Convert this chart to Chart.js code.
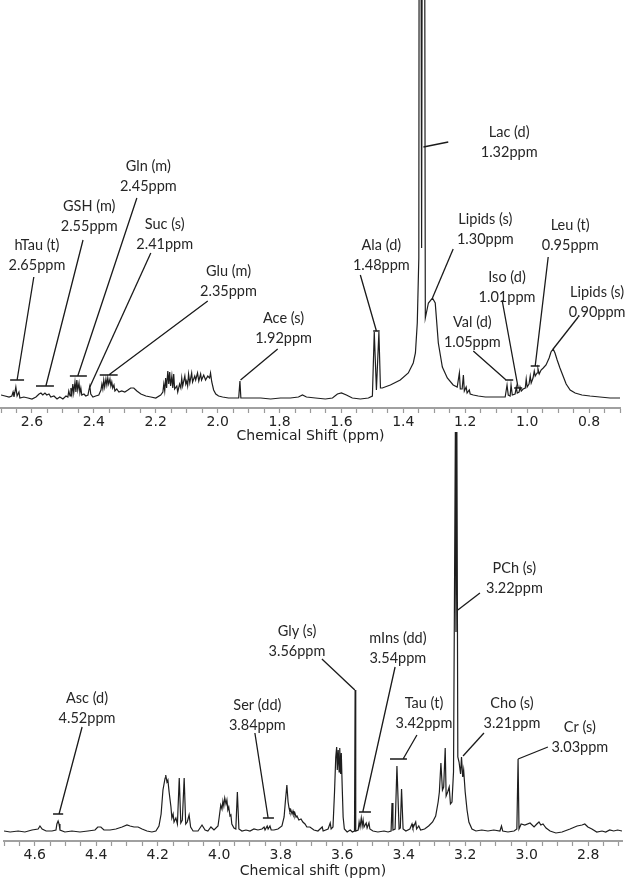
<!DOCTYPE html>
<html>
<head>
<meta charset="utf-8">
<script src="https://cdn.jsdelivr.net/npm/chart.js@4.4.1/dist/chart.umd.min.js"></script>
<style>
  body { margin: 0; background: #fff; }
  #wrap { position: relative; width: 625px; height: 880px; overflow: hidden; }
  canvas { position: absolute; left: 0; }
  #topChart { top: 0; }
  #bottomChart { top: 430px; }
</style>
</head>
<body>
<div id="wrap">
  <canvas id="topChart" width="625" height="445"></canvas>
  <canvas id="bottomChart" width="625" height="450"></canvas>
</div>
<script>
// espectro superior: [desplazamiento ppm, intensidad]
const topTrace = [
  [2.700,3],[2.687,2],[2.674,1],[2.665,2],[2.661,6],[2.658,1],[2.652,11],[2.648,2],[2.642,6],[2.639,0],
  [2.626,1],[2.613,0],[2.600,-1],[2.587,1],[2.577,4],[2.571,5],[2.565,3],[2.558,5],[2.552,3],[2.545,4],
  [2.539,1],[2.529,2],[2.519,-1],[2.510,1],[2.500,-1],[2.490,2],[2.484,1],[2.481,7],[2.477,2],[2.474,10],
  [2.471,4],[2.468,14],[2.465,5],[2.461,16],[2.458,6],[2.455,18],[2.452,8],[2.448,15],[2.445,5],[2.442,10],
  [2.439,3],[2.432,4],[2.426,2],[2.419,3],[2.416,8],[2.413,12],[2.410,4],[2.403,1],[2.394,2],[2.384,3],
  [2.377,8],[2.374,14],[2.371,9],[2.368,18],[2.365,11],[2.361,19],[2.358,13],[2.355,20],[2.352,14],[2.348,19],
  [2.345,12],[2.342,16],[2.339,10],[2.335,13],[2.332,7],[2.326,9],[2.319,6],[2.310,7],[2.300,6],[2.290,8],
  [2.281,10],[2.271,10],[2.261,7],[2.248,4],[2.232,2],[2.216,1],[2.200,0],[2.184,3],[2.177,6],[2.174,14],
  [2.171,7],[2.168,20],[2.165,10],[2.161,27],[2.158,14],[2.155,26],[2.152,12],[2.148,22],[2.145,10],[2.142,24],
  [2.139,9],[2.132,12],[2.129,6],[2.123,14],[2.119,10],[2.116,20],[2.113,12],[2.106,22],[2.103,14],[2.100,17],
  [2.097,12],[2.094,24],[2.090,15],[2.084,25],[2.081,16],[2.074,22],[2.071,18],[2.065,25],[2.061,17],[2.055,24],
  [2.052,18],[2.045,23],[2.039,18],[2.032,22],[2.026,20],[2.023,25],[2.019,16],[2.013,8],[2.006,4],[1.997,2],
  [1.984,1],[1.965,0],[1.945,0],[1.932,0],[1.928,17],[1.925,0],[1.894,0],[1.861,0],[1.829,-1],[1.797,0],
  [1.765,0],[1.739,1],[1.726,3],[1.713,1],[1.684,0],[1.652,-1],[1.629,0],[1.613,4],[1.600,5],[1.584,3],
  [1.565,0],[1.539,-1],[1.513,0],[1.500,2],[1.494,66],[1.487,8],[1.479,66],[1.474,10],[1.468,10],[1.442,13],
  [1.410,18],[1.384,25],[1.368,35],[1.361,45],[1.355,75],[1.350,140],[1.347,1200],[1.341,150],[1.335,1200],[1.329,80],
  [1.319,95],[1.306,100],[1.297,95],[1.287,55],[1.274,31],[1.258,20],[1.239,13],[1.226,11],[1.219,25],[1.216,9],
  [1.210,9],[1.206,23],[1.203,7],[1.197,11],[1.194,5],[1.187,8],[1.184,4],[1.174,3],[1.158,2],[1.135,1],
  [1.113,1],[1.087,1],[1.071,1],[1.065,13],[1.061,3],[1.055,2],[1.052,13],[1.048,3],[1.039,4],[1.035,11],
  [1.032,5],[1.026,6],[1.023,11],[1.019,7],[1.013,9],[1.006,10],[1.003,19],[1.000,11],[0.994,14],[0.990,22],
  [0.987,15],[0.981,20],[0.977,27],[0.974,22],[0.968,25],[0.965,29],[0.961,24],[0.955,28],[0.948,30],[0.939,33],
  [0.929,40],[0.923,46],[0.916,49],[0.910,45],[0.903,38],[0.894,30],[0.884,22],[0.874,14],[0.861,8],[0.845,5],
  [0.823,3],[0.797,2],[0.765,1],[0.732,0],[0.700,0]
];

// espectro inferior
const bottomTrace = [
  [4.700,1],[4.680,0],[4.654,1],[4.632,0],[4.609,2],[4.589,3],[4.583,6],[4.576,3],[4.563,1],[4.544,1],
  [4.531,2],[4.528,8],[4.524,11],[4.521,8],[4.518,2],[4.502,0],[4.479,1],[4.453,0],[4.427,1],[4.404,2],
  [4.395,5],[4.385,5],[4.375,2],[4.355,2],[4.336,3],[4.316,5],[4.300,7],[4.290,6],[4.277,5],[4.264,5],
  [4.251,3],[4.235,1],[4.219,0],[4.206,1],[4.196,6],[4.189,18],[4.183,42],[4.176,54],[4.174,57],[4.170,50],
  [4.167,52],[4.163,40],[4.157,25],[4.154,14],[4.150,18],[4.147,10],[4.144,10],[4.141,14],[4.136,8],[4.130,54],
  [4.125,9],[4.120,12],[4.114,54],[4.109,8],[4.104,10],[4.098,17],[4.093,5],[4.085,1],[4.069,1],[4.056,7],
  [4.046,2],[4.037,1],[4.027,5],[4.017,2],[4.004,6],[4.000,15],[3.995,27],[3.991,23],[3.988,31],[3.985,26],
  [3.982,34],[3.978,28],[3.975,32],[3.972,22],[3.969,25],[3.965,16],[3.962,17],[3.959,8],[3.952,4],[3.946,3],
  [3.941,40],[3.936,3],[3.926,1],[3.913,2],[3.900,1],[3.887,3],[3.874,2],[3.861,3],[3.854,5],[3.851,2],
  [3.844,6],[3.841,3],[3.835,6],[3.831,2],[3.822,2],[3.809,3],[3.796,6],[3.789,15],[3.785,30],[3.780,47],
  [3.776,30],[3.773,24],[3.770,20],[3.767,22],[3.763,18],[3.760,21],[3.757,17],[3.754,19],[3.750,15],[3.747,16],
  [3.741,12],[3.734,13],[3.728,10],[3.721,8],[3.715,5],[3.705,5],[3.692,2],[3.679,1],[3.665,5],[3.662,1],
  [3.646,3],[3.639,9],[3.636,3],[3.630,5],[3.625,40],[3.621,75],[3.618,85],[3.616,62],[3.613,82],[3.610,60],
  [3.608,84],[3.605,58],[3.603,79],[3.600,45],[3.597,15],[3.593,3],[3.584,0],[3.574,2],[3.567,0],[3.560,1],
  [3.558,142],[3.556,1],[3.548,2],[3.545,10],[3.542,5],[3.538,14],[3.535,6],[3.532,12],[3.529,5],[3.522,9],
  [3.519,4],[3.513,9],[3.510,3],[3.500,1],[3.484,0],[3.464,1],[3.451,0],[3.441,1],[3.438,29],[3.435,2],
  [3.428,3],[3.422,66],[3.415,3],[3.411,4],[3.407,43],[3.402,3],[3.393,1],[3.380,3],[3.373,8],[3.370,4],
  [3.361,10],[3.358,3],[3.351,6],[3.345,2],[3.332,3],[3.319,6],[3.306,10],[3.296,16],[3.288,30],[3.284,40],
  [3.279,69],[3.274,42],[3.270,45],[3.265,84],[3.262,36],[3.257,40],[3.252,45],[3.248,28],[3.243,30],[3.238,60],
  [3.232,400],[3.230,200],[3.227,400],[3.224,75],[3.220,70],[3.215,58],[3.212,75],[3.208,55],[3.205,62],[3.200,40],
  [3.194,22],[3.188,10],[3.178,3],[3.165,1],[3.146,2],[3.126,1],[3.107,2],[3.087,1],[3.082,6],[3.078,1],
  [3.061,0],[3.041,1],[3.032,3],[3.028,73],[3.025,3],[3.018,8],[3.006,7],[2.989,9],[2.976,5],[2.967,8],
  [2.960,10],[2.954,7],[2.947,8],[2.937,4],[2.924,1],[2.905,-1],[2.885,0],[2.859,3],[2.836,6],[2.820,7],
  [2.811,8],[2.801,5],[2.788,3],[2.772,0],[2.755,1],[2.743,0],[2.730,2],[2.717,1],[2.704,2],[2.690,1]
];

// etiquetas: nombre, ppm, texto (x,y), linea desde (x,y) hasta (x,y), barra (centro, ancho)
const topNotes = [
  ['hTau (t)', '2.65ppm', 2.584, 153, 2.594, 121, 2.648, 18, 2.648, 0.045],
  ['GSH (m)', '2.55ppm', 2.415, 192, 2.435, 158, 2.555, 12, 2.558, 0.058],
  ['Gln (m)', '2.45ppm', 2.224, 232, 2.261, 200, 2.452, 22, 2.450, 0.055],
  ['Suc (s)', '2.41ppm', 2.171, 174, 2.216, 145, 2.413, 11, null, 0],
  ['Glu (m)', '2.35ppm', 1.965, 127, 2.032, 97, 2.352, 23, 2.352, 0.058],
  ['Ace (s)', '1.92ppm', 1.787, 80, 1.806, 49, 1.926, 18, null, 0],
  ['Ala (d)', '1.48ppm', 1.471, 153, 1.539, 123, 1.487, 67, 1.487, 0.021],
  ['Lac (d)', '1.32ppm', 1.058, 266, 1.255, 256, 1.335, 251, null, 0],
  ['Lipids (s)', '1.30ppm', 1.135, 179, 1.239, 149, 1.306, 100, null, 0],
  ['Leu (t)', '0.95ppm', 0.861, 173, 0.932, 141, 0.974, 32, 0.974, 0.029],
  ['Iso (d)', '1.01ppm', 1.065, 121, 1.081, 98, 1.029, 10, 1.029, 0.026],
  ['Val (d)', '1.05ppm', 1.177, 76, 1.174, 47, 1.068, 18, 1.058, 0.026],
  ['Lipids (s)', '0.90ppm', 0.774, 106, 0.835, 81, 0.916, 49, null, 0]
];

const bottomNotes = [
  ['Asc (d)', '4.52ppm', 4.430, 134, 4.446, 105, 4.521, 18, 4.524, 0.033],
  ['Ser (dd)', '3.84ppm', 3.876, 127, 3.884, 99, 3.841, 14, 3.840, 0.036],
  ['Gly (s)', '3.56ppm', 3.747, 201, 3.666, 173, 3.559, 142, null, 0],
  ['mIns (dd)', '3.54ppm', 3.419, 194, 3.428, 165, 3.533, 20, 3.526, 0.039],
  ['Tau (t)', '3.42ppm', 3.334, 129, 3.357, 97, 3.402, 73, 3.417, 0.055],
  ['PCh (s)', '3.22ppm', 3.040, 264, 3.152, 239, 3.224, 222, null, 0],
  ['Cho (s)', '3.21ppm', 3.048, 129, 3.139, 99, 3.207, 76, null, 0],
  ['Cr (s)', '3.03ppm', 2.827, 105, 2.931, 85, 3.028, 73, null, 0]
];

const axisFont = { family: 'DejaVu Sans', size: 14 };

function esMayor(v) {
  return Math.abs(v / 0.2 - Math.round(v / 0.2)) < 1e-6;
}

// dibuja textos y lineas guia sobre el espectro
function notasPlugin(notas) {
  return {
    id: 'notas',
    afterDatasetsDraw(chart) {
      const { ctx, scales: { x, y } } = chart;
      ctx.save();
      ctx.strokeStyle = '#1a1a1a';
      ctx.lineWidth = 1.3;
      ctx.fillStyle = '#262626';
      ctx.font = '14.5px Lato';
      ctx.textAlign = 'center';
      ctx.textBaseline = 'middle';
      notas.forEach(n => {
        const [nombre, ppm, tx, ty, x1, y1, x2, y2, bx, bw] = n;
        const px = x.getPixelForValue(tx);
        const py = y.getPixelForValue(ty);
        ctx.fillText(nombre, px, py);
        ctx.fillText(ppm, px, py + 20);
        ctx.beginPath();
        ctx.moveTo(x.getPixelForValue(x1), y.getPixelForValue(y1));
        ctx.lineTo(x.getPixelForValue(x2), y.getPixelForValue(y2));
        if (bx !== null) {
          const yb = y.getPixelForValue(y2);
          ctx.moveTo(x.getPixelForValue(bx - bw / 2), yb);
          ctx.lineTo(x.getPixelForValue(bx + bw / 2), yb);
        }
        ctx.stroke();
      });
      ctx.restore();
    }
  };
}

function crearEspectro(id, traza, notas, rango, yRango, titulo, alto, padding) {
  return new Chart(document.getElementById(id), {
    type: 'scatter',
    data: {
      datasets: [{
        data: traza.map(p => ({ x: p[0], y: p[1] })),
        showLine: true,
        borderColor: '#1e1e1e',
        borderWidth: 1.2,
        pointRadius: 0,
        tension: 0
      }]
    },
    options: {
      responsive: false,
      animation: false,
      layout: { padding: padding },
      plugins: { legend: { display: false }, tooltip: { enabled: false } },
      scales: {
        x: {
          type: 'linear',
          reverse: true,
          min: rango[0],
          max: rango[1],
          ticks: {
            stepSize: 0.05,
            includeBounds: false,
            autoSkip: false,
            maxRotation: 0,
            padding: 1,
            color: '#222',
            font: axisFont,
            callback: v => esMayor(v) ? v.toFixed(1) : ''
          },
          grid: { drawOnChartArea: false, tickLength: 5, tickWidth: 1.2, tickColor: '#9a9a9a' },
          border: { color: '#a0a0a0', width: 2 },
          title: { display: true, text: titulo, color: '#222', font: axisFont, padding: { top: 0, bottom: 0 } },
          afterFit: s => { s.height = alto; }
        },
        y: { display: false, min: yRango[0], max: yRango[1] }
      }
    },
    plugins: [notasPlugin(notas)]
  });
}

crearEspectro('topChart', topTrace, topNotes, [0.70, 2.70], [-10, 398],
  'Chemical Shift (ppm)', 37, { left: 0, right: 5, top: 0, bottom: 0 });
crearEspectro('bottomChart', bottomTrace, bottomNotes, [2.69, 4.70], [-9, 402],
  'Chemical shift (ppm)', 39, { left: 4, right: 3, top: 0, bottom: 0 });
</script>
</body>
</html>
